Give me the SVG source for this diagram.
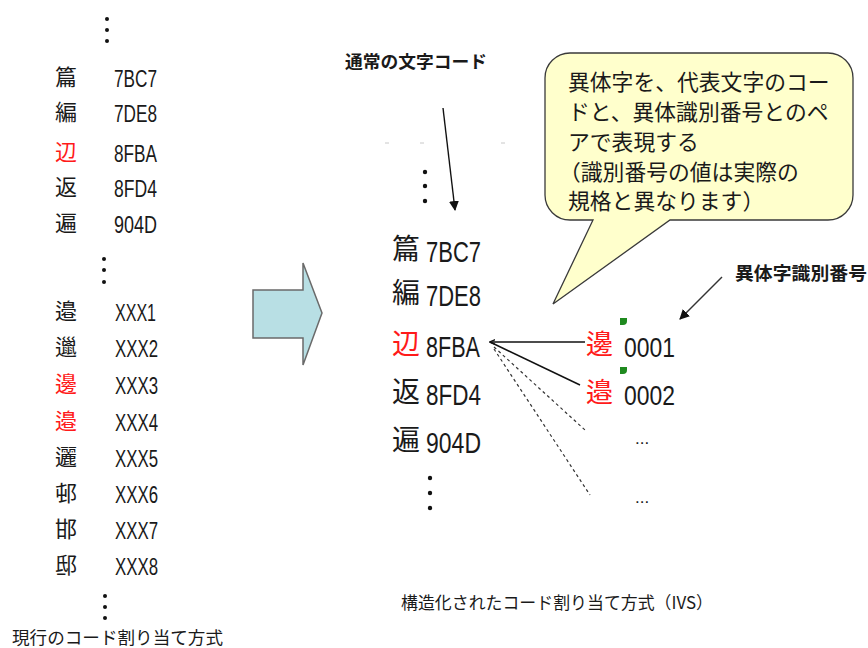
<svg xmlns="http://www.w3.org/2000/svg" width="868" height="648" viewBox="0 0 868 648">
<style>
.cjk{font-family:"Noto Sans CJK JP","Noto Sans CJK SC",sans-serif;fill:#1a1a1a}
.code{font-family:"Liberation Sans",Arial,sans-serif;fill:#1a1a1a}
.red{fill:#ff1a1a}
.bold{font-weight:bold}
.dot{fill:#111}
</style>
<defs>
<marker id="ah" viewBox="0 0 10 10" refX="9" refY="5" markerWidth="10" markerHeight="10" markerUnits="userSpaceOnUse" orient="auto">
<path d="M0,0 L10,5 L0,10 z" fill="#111"/>
</marker>
<marker id="tick" viewBox="0 0 10 10" refX="1" refY="5" markerWidth="6" markerHeight="6" markerUnits="userSpaceOnUse" orient="auto">
<path d="M10,1 L0,5 L10,9" fill="none" stroke="#111" stroke-width="2"/>
</marker>
</defs>

<rect width="868" height="648" fill="#fff"/>

<g id="left-column">
<circle class="dot" cx="107" cy="19" r="2"/><circle class="dot" cx="107" cy="30" r="2"/><circle class="dot" cx="107" cy="41" r="2"/>
<text class="cjk" x="55" y="85" font-size="22">篇</text><text class="code" x="114" y="87" font-size="23.5" textLength="43" lengthAdjust="spacingAndGlyphs">7BC7</text>
<text class="cjk" x="55" y="120" font-size="22">編</text><text class="code" x="114" y="122" font-size="23.5" textLength="43" lengthAdjust="spacingAndGlyphs">7DE8</text>
<text class="cjk red" x="55" y="160" font-size="22">辺</text><text class="code" x="114" y="162" font-size="23.5" textLength="43" lengthAdjust="spacingAndGlyphs">8FBA</text>
<text class="cjk" x="55" y="195" font-size="22">返</text><text class="code" x="114" y="197" font-size="23.5" textLength="43" lengthAdjust="spacingAndGlyphs">8FD4</text>
<text class="cjk" x="55" y="231" font-size="22">遍</text><text class="code" x="114" y="233" font-size="23.5" textLength="43" lengthAdjust="spacingAndGlyphs">904D</text>
<circle class="dot" cx="104" cy="259" r="2"/><circle class="dot" cx="104" cy="270" r="2"/><circle class="dot" cx="104" cy="282" r="2"/>
<text class="cjk" x="55" y="319" font-size="22">邉</text><text class="code" x="115" y="321" font-size="23.5" textLength="41" lengthAdjust="spacingAndGlyphs">XXX1</text>
<text class="cjk" x="55" y="355" font-size="22">邋</text><text class="code" x="115" y="357" font-size="23.5" textLength="43" lengthAdjust="spacingAndGlyphs">XXX2</text>
<text class="cjk red" x="55" y="392" font-size="22">邊</text><text class="code" x="115" y="394" font-size="23.5" textLength="43" lengthAdjust="spacingAndGlyphs">XXX3</text>
<text class="cjk red" x="55" y="429" font-size="22">邉</text><text class="code" x="115" y="431" font-size="23.5" textLength="43" lengthAdjust="spacingAndGlyphs">XXX4</text>
<text class="cjk" x="55" y="465" font-size="22">邐</text><text class="code" x="115" y="467" font-size="23.5" textLength="43" lengthAdjust="spacingAndGlyphs">XXX5</text>
<text class="cjk" x="55" y="501" font-size="22">邨</text><text class="code" x="115" y="503" font-size="23.5" textLength="43" lengthAdjust="spacingAndGlyphs">XXX6</text>
<text class="cjk" x="55" y="537" font-size="22">邯</text><text class="code" x="115" y="539" font-size="23.5" textLength="43" lengthAdjust="spacingAndGlyphs">XXX7</text>
<text class="cjk" x="55" y="573" font-size="22">邸</text><text class="code" x="115" y="575" font-size="23.5" textLength="43" lengthAdjust="spacingAndGlyphs">XXX8</text>
<circle class="dot" cx="105" cy="596" r="2"/><circle class="dot" cx="105" cy="607" r="2"/><circle class="dot" cx="105" cy="618" r="2"/>
<text class="cjk" x="12" y="644" font-size="17.6" textLength="211" lengthAdjust="spacingAndGlyphs">現行のコード割り当て方式</text>
</g>

<g id="block-arrow">
<polygon points="253,290 303,290 303,263 322,313 303,365 303,338 253,338" fill="#b8dfe4" stroke="#6a6a6a" stroke-width="1.5"/>
</g>

<g id="label-normal">
<text class="cjk bold" x="345" y="68" font-size="17.5" textLength="142" lengthAdjust="spacingAndGlyphs">通常の文字コード</text>
</g>

<g id="faint-marks" stroke="#c8c8c8" stroke-width="1">
<line x1="385" y1="143" x2="389" y2="143"/><line x1="420" y1="143" x2="424" y2="143"/><line x1="501" y1="143" x2="505" y2="143"/>
</g>

<g id="callout">
<path d="M570,53 H828 A25,25 0 0 1 853,78 V195 A25,25 0 0 1 828,220 H670 L553,304 L593,220 H570 A25,25 0 0 1 545,195 V78 A25,25 0 0 1 570,53 Z" fill="#ffffcc" stroke="#3a3a3a" stroke-width="1.3"/>
<text class="cjk" font-size="21.8" fill="#222">
<tspan x="568" y="90">異体字を、代表文字のコー</tspan>
<tspan x="568" y="120">ドと、異体識別番号とのペ</tspan>
<tspan x="568" y="150">アで表現する</tspan>
<tspan x="559" y="180">（識別番号の値は実際の</tspan>
<tspan x="568" y="209">規格と異なります）</tspan>
</text>
</g>

<g id="right-list">
<circle class="dot" cx="425" cy="172" r="2.2"/><circle class="dot" cx="425" cy="186" r="2.2"/><circle class="dot" cx="425" cy="201" r="2.2"/>
<text class="cjk" x="392" y="259" font-size="28">篇</text><text class="code" x="426" y="262" font-size="29" textLength="55" lengthAdjust="spacingAndGlyphs">7BC7</text>
<text class="cjk" x="392" y="303" font-size="28">編</text><text class="code" x="426" y="306" font-size="29" textLength="55" lengthAdjust="spacingAndGlyphs">7DE8</text>
<text class="cjk red" x="392" y="354" font-size="28">辺</text><text class="code" x="426" y="357" font-size="29" textLength="54" lengthAdjust="spacingAndGlyphs">8FBA</text>
<text class="cjk" x="392" y="402" font-size="28">返</text><text class="code" x="426" y="405" font-size="29" textLength="55" lengthAdjust="spacingAndGlyphs">8FD4</text>
<text class="cjk" x="392" y="450" font-size="28">遍</text><text class="code" x="426" y="453" font-size="29" textLength="55" lengthAdjust="spacingAndGlyphs">904D</text>
<circle class="dot" cx="430" cy="478" r="2.2"/><circle class="dot" cx="430" cy="493" r="2.2"/><circle class="dot" cx="430" cy="508" r="2.2"/>
</g>

<g id="variants">
<text class="cjk red" x="586" y="354" font-size="27">邊</text>
<path d="M620,318 h7 v3 a4,4 0 0 1 -4,4 h-3 z" fill="#1f8a1f"/>
<text class="code" x="624" y="357" font-size="27" textLength="51" lengthAdjust="spacingAndGlyphs">0001</text>
<text class="cjk red" x="586" y="402" font-size="27">邉</text>
<path d="M620,367 h7 v3 a4,4 0 0 1 -4,4 h-3 z" fill="#1f8a1f"/>
<text class="code" x="624" y="405" font-size="27" textLength="51" lengthAdjust="spacingAndGlyphs">0002</text>
<text class="code" x="635" y="444" font-size="17">...</text>
<text class="code" x="635" y="503" font-size="17">...</text>
</g>

<g id="label-ivs-number">
<text class="cjk bold" x="735" y="280" font-size="18.6" textLength="132" lengthAdjust="spacingAndGlyphs">異体字識別番号</text>
</g>

<g id="caption-ivs">
<text class="cjk" x="401" y="609" font-size="17.2" textLength="312" lengthAdjust="spacingAndGlyphs">構造化されたコード割り当て方式（IVS）</text>
</g>

<g id="connectors" fill="none">
<line x1="443" y1="108" x2="455" y2="210" stroke="#111" stroke-width="1.4" marker-end="url(#ah)"/>
<line x1="722" y1="277" x2="680" y2="319" stroke="#333" stroke-width="1.4" marker-end="url(#ah)"/>
<line x1="490" y1="342" x2="585" y2="342" stroke="#111" stroke-width="1.5" marker-start="url(#tick)"/>
<line x1="490" y1="342" x2="580" y2="385" stroke="#111" stroke-width="1.5"/>
<line x1="494" y1="347" x2="585" y2="430" stroke="#333" stroke-width="1.2" stroke-dasharray="3,3"/>
<line x1="494" y1="349" x2="590" y2="495" stroke="#333" stroke-width="1.2" stroke-dasharray="3,3"/>
</g>
</svg>
